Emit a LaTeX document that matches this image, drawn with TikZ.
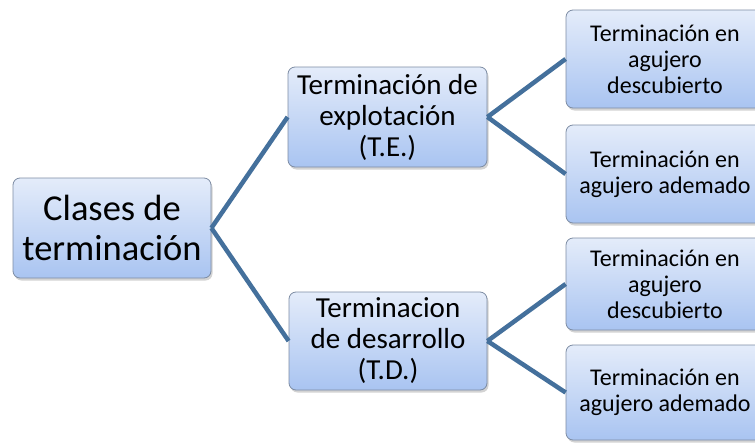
\documentclass[tikz,border=0pt]{standalone}
\usepackage{fontspec}
\setmainfont{Carlito}
\usetikzlibrary{shadows}

\definecolor{boxtop}{HTML}{E4ECFA}
\definecolor{boxbottom}{HTML}{A9C4F1}
\definecolor{boxline}{HTML}{7D8CA3}
\definecolor{branch}{HTML}{44709C}

\tikzset{
  clase/.style={draw=boxline, line width=0.8pt, rounded corners=7pt,
    top color=boxtop, bottom color=boxbottom, align=center, inner sep=1pt,
    drop shadow={shadow xshift=1.5pt, shadow yshift=-2.5pt, opacity=0.35}},
  rama/.style={draw=branch, line width=4.5pt}
}

\begin{document}
\begin{tikzpicture}[x=1pt, y=-1pt]
            \clip (0,0) rectangle (755,442);

            \node[clase, minimum width=198pt, minimum height=100pt,
              font=\fontsize{36.5}{40}\selectfont] (CT) at (112,228) {Clases de\\terminación};

            \node[clase, minimum width=199pt, minimum height=100pt,
              font=\fontsize{29}{31}\selectfont] (TE) at (387.5,117) {Terminación de\\explotación\\(T.E.)};
            \node[clase, minimum width=198pt, minimum height=98pt,
              font=\fontsize{29}{31}\selectfont] (TD) at (388,341) {Terminacion\\de desarrollo\\(T.D.)};

            \node[clase, minimum width=198pt, minimum height=98pt,
              font=\fontsize{24}{26}\selectfont] (TE1) at (665,59) {Terminación en\\agujero\\descubierto};
            \node[clase, minimum width=198pt, minimum height=98pt,
              font=\fontsize{24}{26}\selectfont] (TE2) at (665,174) {Terminación en\\agujero ademado};
            \node[clase, minimum width=198pt, minimum height=92pt,
              font=\fontsize{24}{26}\selectfont] (TD1) at (665,284) {Terminación en\\agujero\\descubierto};
            \node[clase, minimum width=198pt, minimum height=95pt,
              font=\fontsize{24}{26}\selectfont] (TD2) at (665,392.5) {Terminación en\\agujero ademado};

            \draw[rama] (CT.east) -- (TE.west);
            \draw[rama] (CT.east) -- (TD.west);
            \draw[rama] (TE.east) -- (TE1.west);
            \draw[rama] (TE.east) -- (TE2.west);
            \draw[rama] (TD.east) -- (TD1.west);
            \draw[rama] (TD.east) -- (TD2.west);
        \end{tikzpicture}
\end{document}
